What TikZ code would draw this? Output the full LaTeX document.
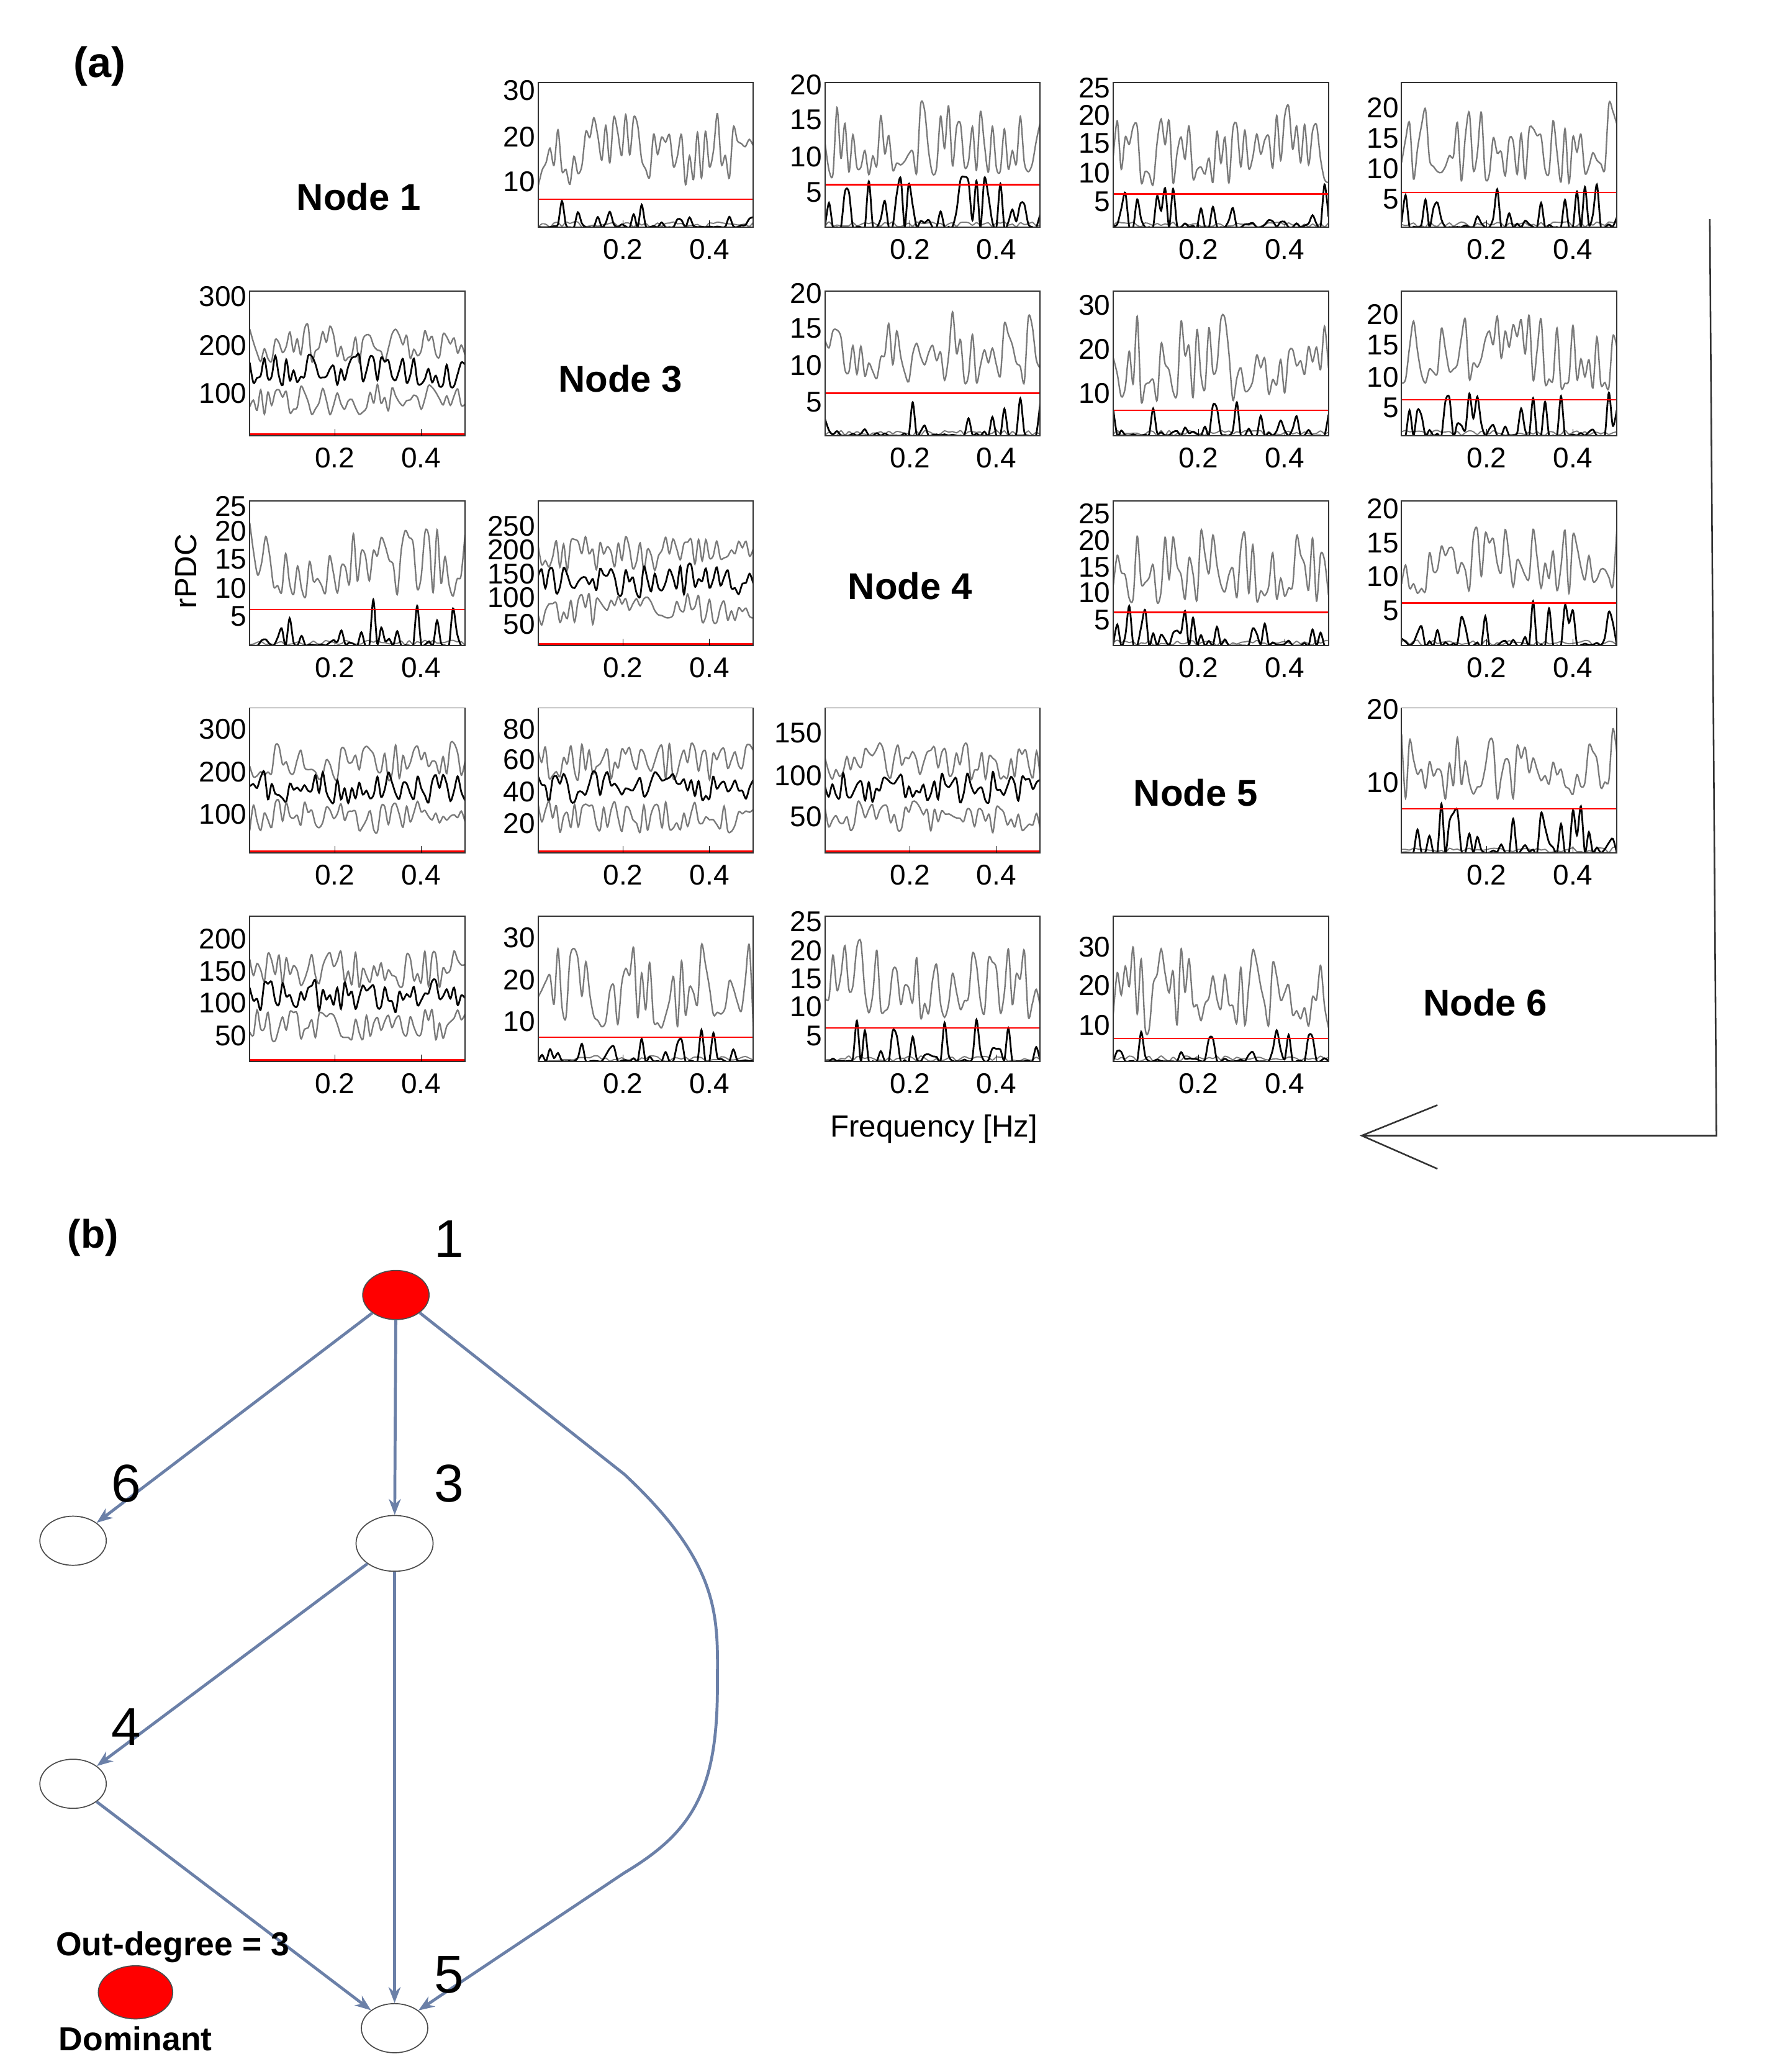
\documentclass[tikz,border=0pt]{standalone}
\usepackage{fontspec}
\setmainfont{Liberation Sans}
\usetikzlibrary{arrows.meta,shapes.geometric}
\definecolor{edge}{HTML}{6B80A8}
\definecolor{curvegray}{HTML}{7A7A7A}
\tikzset{
  box/.style={draw=black!80,line width=0.9pt},
  tick/.style={font=\fontsize{21.5}{21.5}\selectfont,inner sep=2pt},
  nodelab/.style={font=\bfseries\fontsize{28}{28}\selectfont},
  gnode/.style={draw=black!70,fill=white,ellipse,minimum width=50pt,minimum height=37pt,line width=0.8pt},
  gedge/.style={draw=edge,line width=2.2pt,-{Stealth[length=12pt,width=9pt]}},
  glab/.style={font=\fontsize{40}{40}\selectfont},
}
% type A: x0,y0,red(abs),seed,ylabels
\newcommand\pdcA[5]{%
 \begin{scope}[shift={(#1,#2)}]
  \pgfmathsetseed{#4}
  \pgfmathsetmacro\r{#3-#2}
  \begin{scope}\clip (0,0) rectangle (162,109);
   \draw[curvegray,line width=1.1pt] plot[smooth,domain=0:162,samples=55] (\x,{5+(\r-12)*(0.15+0.85*rnd^0.7)});
   \draw[curvegray,line width=0.9pt] plot[smooth,domain=0:162,samples=55] (\x,{109-4*rnd});
   \draw[black,line width=1.3pt] plot[smooth,domain=0:162,samples=55] (\x,{109-(109-\r+8)*rnd^5});
   \draw[red,line width=1.1pt] (0,\r) -- (162,\r);
  \end{scope}
  \draw[box] (0,0) rectangle (162,109);
  \foreach \t in {64,129}{\draw (\t,109)--(\t,104);}
  \node[tick,below] at (64,116) {0.2};
  \node[tick,below] at (129,116) {0.4};
 \end{scope}
 \foreach \l/\yy in {#5}{\node[tick,left] at (#1,\yy) {\l};}
}
% type B
\newcommand\pdcB[4]{%
 \begin{scope}[shift={(#1,#2)}]
  \pgfmathsetseed{#3}
  \begin{scope}\clip (0,0) rectangle (162,109);
   \draw[curvegray,line width=1.1pt] plot[smooth,domain=0:162,samples=60] (\x,{40+14*rand});
   \draw[black,line width=1.3pt] plot[smooth,domain=0:162,samples=60] (\x,{60+12*rand});
   \draw[curvegray,line width=1.1pt] plot[smooth,domain=0:162,samples=60] (\x,{82+12*rand});
   \draw[red,line width=1.4pt] (0,108) -- (162,108);
  \end{scope}
  \draw[box] (0,0) rectangle (162,109);
  \foreach \t in {64,129}{\draw (\t,109)--(\t,104);}
  \node[tick,below] at (64,116) {0.2};
  \node[tick,below] at (129,116) {0.4};
 \end{scope}
 \foreach \l/\yy in {#4}{\node[tick,left] at (#1,\yy) {\l};}
}
\begin{document}
\begin{tikzpicture}[x=1pt,y=-1pt]
\useasboundingbox[fill=white] (0,0) rectangle (1330,1560);
\node[font=\bfseries\fontsize{32}{32}\selectfont] (a) at (75,50) {(a)};
% row 1
\pdcA{405}{62}{150}{11}{30/68,20/103,10/137}
\pdcA{621}{62}{139}{12}{20/64,15/90,10/118,5/145}
\pdcA{838}{62}{146}{13}{25/66,20/87,15/108,10/130,5/152}
\pdcA{1055}{62}{145}{14}{20/81,15/104,10/127,5/150}
% row 2
\pdcB{188}{219}{21}{300/223,200/260,100/296}
\pdcA{621}{219}{296}{22}{20/221,15/247,10/275,5/303}
\pdcA{838}{219}{309}{23}{30/230,20/263,10/296}
\pdcA{1055}{219}{301}{24}{20/237,15/260,10/284,5/307}
% row 3
\pdcA{188}{377}{459}{31}{25/381,20/400,15/421,10/443,5/464}
\pdcB{405}{377}{32}{250/396,200/414,150/432,100/450,50/470}
\pdcA{838}{377}{461}{34}{25/387,20/407,15/427,10/446,5/467}
\pdcA{1055}{377}{454}{35}{20/383,15/409,10/434,5/460}
% row 4
\pdcB{188}{533}{41}{300/549,200/581,100/613}
\pdcB{405}{533}{42}{80/549,60/572,40/596,20/620}
\pdcB{621}{533}{43}{150/552,100/584,50/615}
\pdcA{1055}{533}{609}{45}{20/534,10/589}
% row 5
\pdcB{188}{690}{51}{200/707,150/731,100/755,50/780}
\pdcA{405}{690}{781}{52}{30/706,20/738,10/769}
\pdcA{621}{690}{774}{53}{25/694,20/716,15/737,10/758,5/780}
\pdcA{838}{690}{782}{54}{30/713,20/742,10/772}
% node labels
\node[nodelab] (N1) at (270,148) {Node 1};
\node[nodelab] (N3) at (467,285) {Node 3};
\node[nodelab] (N4) at (685,441) {Node 4};
\node[nodelab] (N5) at (900,597) {Node 5};
\node[nodelab] (N6) at (1118,755) {Node 6};
\node[tick,rotate=90,font=\fontsize{23}{23}\selectfont] (rp) at (140,430) {rPDC};
\node[tick,font=\fontsize{23}{23}\selectfont] (fq) at (703,850) {Frequency [Hz]};
% big arrow
\coordinate (A0) at (1287,165);
\coordinate (A1) at (1292,855);
\coordinate (A2) at (1025,855);
\coordinate (T1) at (1082,832);
\coordinate (T2) at (1082,880);
\draw[black!80,line width=1.2pt] (A0) -- (A1) -- (A2);
\draw[black!80,line width=1.2pt] (T1) -- (A2) -- (T2);
% (b)
\node[font=\bfseries\fontsize{30}{30}\selectfont] (b) at (70,932) {(b)};
\node[gnode,fill=red,minimum width=50pt,minimum height=37pt] (n1) at (298,975) {};
\node[gnode] (n6) at (55,1160) {};
\node[gnode,minimum width=58pt,minimum height=42pt] (n3) at (297,1162) {};
\node[gnode] (n4) at (55,1343) {};
\node[gnode] (n5) at (297,1527) {};
\draw[gedge] (n1) -- (n6);
\draw[gedge] (n1) -- (n3);
\draw[gedge] (n3) -- (n4);
\draw[gedge] (n3) -- (n5);
\draw[gedge] (n4) -- (n5);
\draw[gedge] (n1.south east) -- (470,1110) .. controls (545,1180) and (540,1220) .. (540,1270) .. controls (540,1350) and (520,1380) .. (470,1410) -- (n5.north east);
\node[glab] (l1) at (338,933) {1};
\node[glab] (l6) at (95,1117) {6};
\node[glab] (l3) at (338,1117) {3};
\node[glab] (l4) at (95,1300) {4};
\node[glab] (l5) at (338,1487) {5};
\node[gnode,fill=red,minimum width=56pt,minimum height=40pt] (leg) at (102,1500) {};
\node[font=\bfseries\fontsize{25}{25}\selectfont] (od) at (130,1466) {Out-degree = 3};
\node[font=\bfseries\fontsize{25}{25}\selectfont] (dom) at (102,1535) {Dominant};
\end{tikzpicture}
\end{document}
